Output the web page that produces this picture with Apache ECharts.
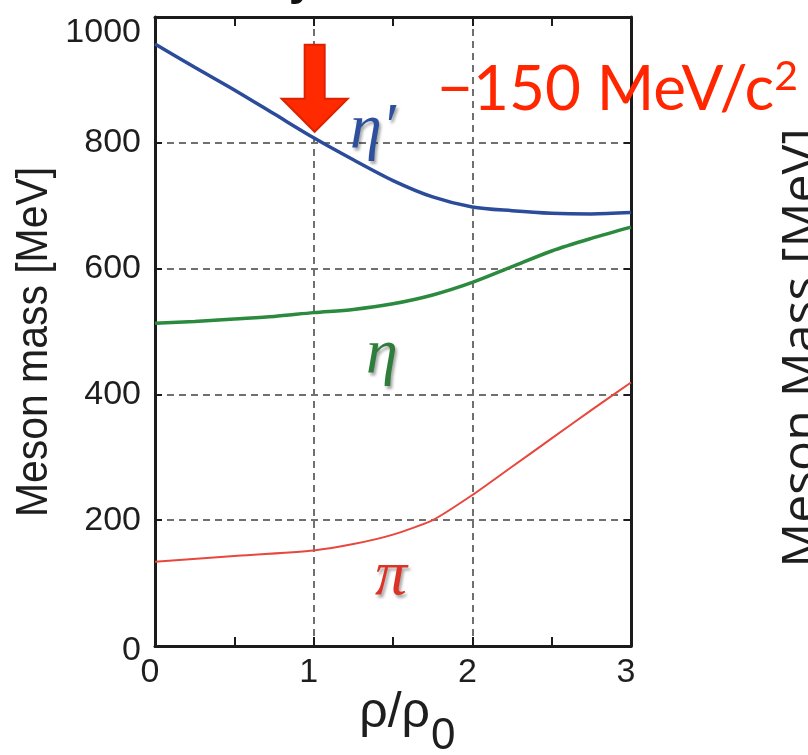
<!DOCTYPE html>
<html>
<head>
<meta charset="utf-8">
<script src="https://cdn.jsdelivr.net/npm/echarts@6/dist/echarts.min.js"></script>
<style>
  html, body { margin: 0; padding: 0; background: #ffffff; }
  #chart { width: 808px; height: 755px; }
</style>
</head>
<body>
<div id="chart"></div>
<script>
// Density in units of normal nuclear density, rho / rho0
const densityEta = [0, 0.25, 0.5, 0.75, 1.0, 1.25, 1.5, 1.75, 2.0, 2.25, 2.5, 2.75, 3.0];
// eta' (958) in-medium mass [MeV]
const massEtaPrime = [957, 920, 884, 846, 808, 773, 740, 714, 698, 692, 688, 687, 689];
// eta (548) in-medium mass [MeV]
const massEta = [513, 516, 520, 524, 530, 535, 544, 558, 578, 603, 628, 648, 666];
// pion in-medium mass [MeV]
const densityPion = [0, 0.5, 1.0, 1.25, 1.5, 1.75, 2.0, 2.25, 2.5, 2.75, 3.0];
const massPion = [134, 143, 152, 162, 177, 200, 240, 285, 330, 375, 419];

// Axis ranges and tick steps
const xRange = [0, 3];
const xStep = 1;
const yRange = [0, 1000];
const yStep = 200;

// Density at which the mass drop is marked
const markDensity = 1.0;
const massDropText = '\u2212150 MeV/c';

const pairs = (xs, ys) => xs.map((x, i) => [x, ys[i]]);

const INK = '#1b1b1b';
const TICK_FONT = 'Liberation Sans, Arial, Helvetica, sans-serif';
const GREEK_FONT = 'Liberation Serif, Times New Roman, serif';

const frameLine = { show: true, onZero: false, lineStyle: { color: INK, width: 3 } };
const gridDash = { show: true, lineStyle: { color: '#707070', width: 2, type: [7, 5] } };

function xAxisDef(pos, withLabels) {
  return {
    type: 'value', position: pos, min: xRange[0], max: xRange[1], interval: xStep,
    axisLine: frameLine,
    axisTick: { show: true, inside: true, length: 9, lineStyle: { color: INK, width: 2 } },
    minorTick: { show: true, splitNumber: 2, length: 9, lineStyle: { color: INK, width: 2 } },
    splitLine: withLabels ? gridDash : { show: false },
    axisLabel: withLabels ? {
      show: true, fontFamily: TICK_FONT, fontSize: 34, color: '#1e1e1e', margin: 10,
      padding: [0, 10, 0, 0]
    } : { show: false }
  };
}

function yAxisDef(pos, withLabels) {
  return {
    type: 'value', position: pos, min: yRange[0], max: yRange[1], interval: yStep,
    axisLine: frameLine,
    axisTick: { show: true, inside: true, length: 7, lineStyle: { color: INK, width: 2 } },
    splitLine: withLabels ? gridDash : { show: false },
    axisLabel: withLabels ? {
      show: true, fontFamily: TICK_FONT, fontSize: 34, color: '#1e1e1e', margin: 14,
      formatter: v => (v === yRange[1] ? '{top|' + v + '}' : (v === 0 ? '{low|0}' : String(v))),
      rich: {
        top: { fontFamily: TICK_FONT, fontSize: 34, color: '#1e1e1e', padding: [32, 0, 0, 0] },
        low: { fontFamily: TICK_FONT, fontSize: 34, color: '#1e1e1e', padding: [10, 0, 0, 0] }
      }
    } : { show: false }
  };
}

const chart = echarts.init(document.getElementById('chart'), null, { renderer: 'canvas' });

const greekShadow = {
  textShadowColor: 'rgba(0,0,0,0.35)', textShadowBlur: 3,
  textShadowOffsetX: 2, textShadowOffsetY: 3
};

chart.setOption({
  animation: false,
  backgroundColor: '#ffffff',
  grid: { left: 155, right: 177, top: 17, bottom: 109, containLabel: false },
  xAxis: [xAxisDef('bottom', true), xAxisDef('top', false)],
  yAxis: [yAxisDef('left', true), yAxisDef('right', false)],
  series: [
    {
      name: "\u03b7'", type: 'line', xAxisIndex: 0, yAxisIndex: 0,
      data: pairs(densityEta, massEtaPrime), smooth: 0.3, showSymbol: false,
      lineStyle: { color: '#2b4c9b', width: 3.5 }, z: 3
    },
    {
      name: '\u03b7', type: 'line', xAxisIndex: 0, yAxisIndex: 0,
      data: pairs(densityEta, massEta), smooth: 0.3, showSymbol: false,
      lineStyle: { color: '#2b8a3e', width: 3.5 }, z: 3
    },
    {
      name: '\u03c0', type: 'line', xAxisIndex: 0, yAxisIndex: 0,
      data: pairs(densityPion, massPion), smooth: 0.2, showSymbol: false,
      lineStyle: { color: '#e8473d', width: 2 }, z: 3
    }
  ]
});

// Arrow pointing down onto the eta' curve at the marked density
const markMass = massEtaPrime[densityEta.indexOf(markDensity)];
const tip = chart.convertToPixel({ xAxisIndex: 0, yAxisIndex: 0 }, [markDensity, markMass]);
const tx = tip[0] + 1, ty = tip[1] - 6;
const arrowPoints = [
  [tx - 10, ty - 87], [tx + 10, ty - 87], [tx + 10, ty - 33], [tx + 33, ty - 33],
  [tx, ty], [tx - 33, ty - 33], [tx - 10, ty - 33]
];

chart.setOption({
  graphic: [
    {
      type: 'polygon', z: 20, shape: { points: arrowPoints },
      style: { fill: '#ff2a00', stroke: '#dc2200', lineWidth: 2 }
    },
    {
      type: 'text', z: 20, x: 437, y: 90,
      style: {
        text: '{m|' + massDropText + '}{s|2}',
        rich: {
          m: { fontFamily: 'Lato, Open Sans, sans-serif', fontSize: 62, fill: '#ff2600' },
          s: { fontFamily: 'Lato, Open Sans, sans-serif', fontSize: 41, fill: '#ff2600', padding: [0, 0, 26, 0] }
        },
        textAlign: 'left', textVerticalAlign: 'middle'
      }
    },
    {
      type: 'text', z: 15, x: 350, y: 130,
      style: Object.assign({
        text: '\u03b7\u2032', font: 'italic 64px ' + GREEK_FONT, fill: '#2d4f9e',
        textAlign: 'left', textVerticalAlign: 'middle'
      }, greekShadow)
    },
    {
      type: 'text', z: 15, x: 366, y: 355,
      style: Object.assign({
        text: '\u03b7', font: 'italic 64px ' + GREEK_FONT, fill: '#2f7d3b',
        textAlign: 'left', textVerticalAlign: 'middle'
      }, greekShadow)
    },
    {
      type: 'text', z: 15, x: 375, y: 577,
      style: Object.assign({
        text: '\u03c0', font: 'italic 64px ' + GREEK_FONT, fill: '#dd3326',
        textAlign: 'left', textVerticalAlign: 'middle'
      }, greekShadow)
    },
    // axis titles
    {
      type: 'text', x: 35, y: 342, rotation: Math.PI / 2, scaleX: 0.93,
      style: {
        text: 'Meson mass [MeV]', font: '44px ' + TICK_FONT, fill: '#1e1e1e',
        textAlign: 'center', textVerticalAlign: 'middle'
      }
    },
    {
      type: 'text', x: 430, y: 713,
      style: {
        text: '\u03c1/\u03c1', font: '50px ' + TICK_FONT, fill: '#1e1e1e',
        textAlign: 'right', textVerticalAlign: 'middle'
      }
    },
    {
      type: 'text', x: 431, y: 737,
      style: {
        text: '0', font: '44px ' + TICK_FONT, fill: '#1e1e1e',
        textAlign: 'left', textVerticalAlign: 'middle'
      }
    },
    // neighbouring panel's axis title at the right edge
    {
      type: 'text', x: 803, y: 348, rotation: Math.PI / 2,
      style: {
        text: 'Meson Mass [MeV]', font: '50px Open Sans, sans-serif', fill: '#1e1e1e',
        textAlign: 'center', textVerticalAlign: 'middle'
      }
    },
    // descender of the heading line above the panel
    {
      type: 'text', x: 302, y: 5,
      style: {
        text: 'y', font: 'bold 48px ' + TICK_FONT, fill: '#111',
        textAlign: 'center', textVerticalAlign: 'bottom'
      }
    }
  ]
});
</script>
</body>
</html>
